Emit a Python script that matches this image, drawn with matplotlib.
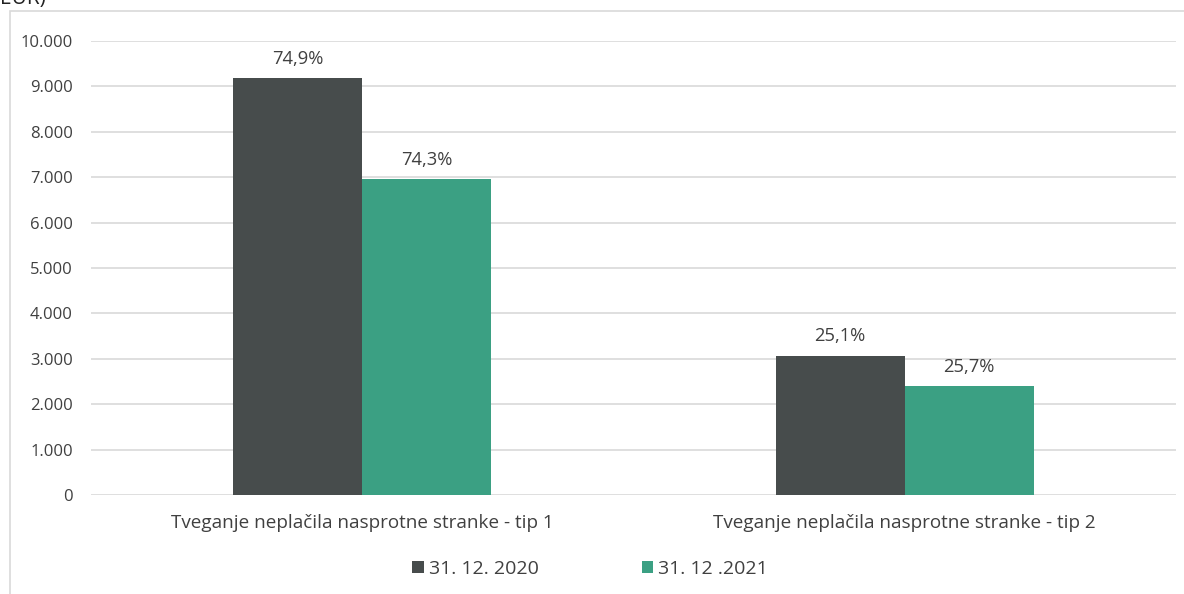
import matplotlib.pyplot as plt
import numpy as np
from matplotlib.patches import Rectangle

categories = ['Tveganje neplačila nasprotne stranke - tip 1',
              'Tveganje neplačila nasprotne stranke - tip 2']
series_names = ['31. 12. 2020', '31. 12 .2021']
values_2020 = [9180, 3065]
values_2021 = [6960, 2400]
labels_2020 = ['74,9%', '25,1%']
labels_2021 = ['74,3%', '25,7%']
yticks = [0, 1000, 2000, 3000, 4000, 5000, 6000, 7000, 8000, 9000, 10000]

plt.rcParams['font.family'] = ['Open Sans', 'DejaVu Sans']
text_col = '#404040'

fig = plt.figure(figsize=(11.84, 5.94), dpi=100)
ax = fig.add_axes([91 / 1184, 1 - 495 / 594, (1176 - 91) / 1184, (495 - 41) / 594])

# outer chart border (cut off at right / bottom)
fig.patches.append(Rectangle((10 / 1184, -0.05), 1.1, 1 - 11 / 594 + 0.05,
                             transform=fig.transFigure, fill=False,
                             edgecolor='#d9d9d9', linewidth=1.2))
fig.text(0.0, 1 - 9 / 594, 'EUR)', fontsize=15, color='#222222', va='bottom', ha='left')

x = np.arange(len(categories))
w = 0.238
b1 = ax.bar(x - w / 2, values_2020, w, color='#474c4c', label=series_names[0], zorder=3)
b2 = ax.bar(x + w / 2, values_2021, w, color='#3ba083', label=series_names[1], zorder=3)

for bars, labs in ((b1, labels_2020), (b2, labels_2021)):
    for r, t in zip(bars, labs):
        ax.text(r.get_x() + r.get_width() / 2, r.get_height() + 230, t,
                ha='center', va='bottom', fontsize=13.2, color=text_col)

ax.set_xlim(-0.5, 1.5)
ax.set_ylim(0, 10000)
ax.set_yticks(yticks)
ax.set_yticklabels([f'{v:,}'.replace(',', '.') for v in yticks])
ax.set_xticks(x)
ax.set_xticklabels(categories)
ax.tick_params(axis='both', length=0, labelcolor=text_col)
ax.tick_params(axis='y', pad=13, labelsize=12)
ax.tick_params(axis='x', pad=14, labelsize=13.6)
ax.grid(axis='y', color='#d9d9d9', linewidth=1.2, zorder=0)
for s in ax.spines.values():
    s.set_visible(False)
ax.set_facecolor('none')

ax.legend(loc='upper center', bbox_to_anchor=(0.46, -0.105), ncol=2, frameon=False,
          fontsize=14, handlelength=0.6, handleheight=0.6, columnspacing=5.3,
          handletextpad=0.25, labelcolor=text_col)

fig.savefig('out.png', dpi=100)
